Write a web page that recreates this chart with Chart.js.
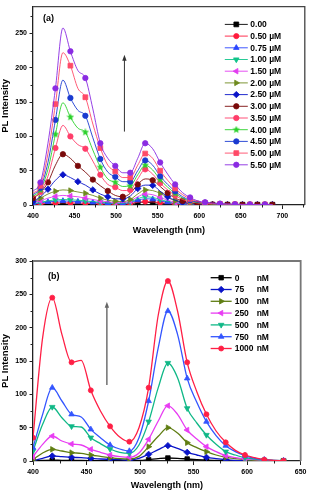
<!DOCTYPE html>
<html><head><meta charset="utf-8">
<script src="https://cdn.jsdelivr.net/npm/chart.js@4.4.1/dist/chart.umd.min.js"></script>
<style>
html,body{margin:0;padding:0;background:#fff;width:309px;height:492px;overflow:hidden}
#ca{position:absolute;left:0;top:0}
#cb{position:absolute;left:0;top:250px}
</style></head>
<body>
<canvas id="ca" width="309" height="250"></canvas>
<canvas id="cb" width="309" height="242"></canvas>
<script>
// ---------------- DATA: panel (a) ----------------
const wavelengthA = [400,409,418,427,436,445,454,463,472,481,490,499,508,517,526,535,544,553,562,571,580,589,598,607,616,625,634,643,652,661,670,679,688];
const labelsA = ['0.00','0.50 µM','0.75 µM','1.00 µM','1.50 µM','2.00 µM','2.50 µM','3.00 µM','3.50 µM','4.00 µM','4.50 µM','5.00 µM','5.50 µM'];
const a000 = [0.5,0.8,1,1.2,1.3,1.2,1.1,1,0.9,0.8,0.7,0.7,0.8,1.5,3.5,4,3.5,2.5,1.5,1,0.7,0.5,0.4,0.4,0.4,0.4,0.4,0.4,0.4,0.4,0.4,0.4,0.4];
const a050 = [1,1.5,2.5,3,3.2,3,2.8,2.5,2,1.7,1.3,1.2,1.2,2,4,5,4.5,3.5,2.3,1.4,0.8,0.5,0.3,0.2,0.2,0.2,0.2,0.2,0.2,0.2,0.2,0.2,0.2];
const a075 = [1.5,3,4.5,5.5,6,5.5,5,4.5,3.8,3,2.3,2,2,3.5,7,9,8.5,6,4,2.5,1.5,0.8,0.5,0.3,0.3,0.3,0.3,0.3,0.3,0.3,0.3,0.3,0.3];
const a100 = [2,4,6,7.5,8,7.5,7,6,5,4,3,2.5,2.5,4.5,9,12,11,8,5,3,1.8,1,0.6,0.4,0.3,0.3,0.3,0.3,0.3,0.3,0.3,0.3,0.3];
const a150 = [3,6,10,12.5,14,13,12,10,8,6,4.5,3.5,3.5,6,12,16,15,11,7,4,2.5,1.5,0.8,0.5,0.4,0.3,0.3,0.3,0.3,0.3,0.3,0.3,0.3];
const a200 = [4,10,16,20,22,21,19,17,14,10,7,5.5,5,8,16,22,21,17,11,6,3.5,2,1.2,0.7,0.5,0.4,0.3,0.3,0.3,0.3,0.3,0.3,0.3];
const a250 = [5,12,23,36,44,40,34,29,22,16,12,9,9,13,24,29,28.6,20,12,7,4,2,1.2,0.8,0.5,0.4,0.3,0.3,0.3,0.3,0.3,0.3,0.3];
const a300 = [10,18,33,58,74,68,57,48,37,28,20.5,14,12,17,30,38,36,27,17.6,10,6,3.5,2,1.2,0.8,0.6,0.5,0.5,0.4,0.4,0.4,0.4,0.4];
const a350 = [11,19,42,83,116,100,88,82,64,44,30,26,21,22,38,52,45,32,22,14,8,5,3,2,1.2,0.8,0.6,0.5,0.5,0.4,0.4,0.4,0.4];
const a400 = [13,22,52,103,149,128,112,106,80,55,38,33,27,28,44,58,51,37,26,17,10,6,3.5,2.5,1.5,1,0.8,0.7,0.6,0.5,0.5,0.5,0.5];
const a450 = [15,25,62,124,182,156,138,130,98,67,48,41,34,34,50,65,58,42,30,20,12,7,4,3,2,1.2,1,0.8,0.7,0.6,0.6,0.6,0.6];
const a500 = [17,28,75,147,222,203,170,157,118,83,58,49,40,40,58,75,68,50,36,24,15,9,5,3,2,1.5,1,1,0.8,0.7,0.7,0.7,0.7];
const a550 = [20,33,90,170,258,224,196,185,140,90,68,57,47,47,68,90,82,62,45,30,18,11,6,4,3,2,1.5,1,1,0.8,0.8,0.8,0.8];
const seriesA = [a000,a050,a075,a100,a150,a200,a250,a300,a350,a400,a450,a500,a550];
const xTicksA = [400,450,500,550,600,650,700];
const yTicksA = [0,50,100,150,200,250];
const arrowA = [510, 107, 219]; // wavelength, from intensity, to intensity

// ---------------- DATA: panel (b) ----------------
const wavelengthB = [400,409,418,427,436,445,454,463,472,481,490,499,508,517,526,535,544,553,562,571,580,589,598,607,616,625,634];
const labelsB = ['0','75','100','250','500','750','1000'];
const unitB = 'nM';
const b0    = [0.3,0.8,1.2,1,0.9,0.8,0.7,0.6,0.5,0.5,0.5,0.8,2,3.5,4.5,4,3,2,1.2,0.8,0.5,0.4,0.3,0.3,0.3,0.3,0.3];
const b75   = [0.5,4,7.5,6.5,5.5,5,4,3,2.5,2,1.5,4,10,17,23,19,13,9,5.5,3.5,2,1,0.5,0.3,0.2,0.2,0.2];
const b100  = [2,12,17.5,15,12.5,11.5,9,7,5,3.5,3,7,21.5,37,50,42,27.5,20,14,9,5.5,3.5,2,1,0.5,0.3,0.2];
const b250  = [6.5,25,37.5,30,25.5,24,17.5,13,9,6.5,5.5,12,32.5,60,83,70,46.5,33,21.5,14,8,5,3,2,1,0.5,0.3];
const b500  = [15,55,81,65,52,51,35,26,18,13,11.5,24,59,110,147,125,79,57,39,25,14,9,5,3,1.5,1,0.5];
const b750  = [20,70,110,90,70,66,47.5,35,24,18,15,35,90,170,225,190,124,88,59,38,23,14,8,4,2,1,0.5];
const b1000 = [35,185,245,190,148,151,106,75,52,36,29,50,110,219,270,225,148,104,70,45,28,16,9,5,2,1,0.5];
const seriesB = [b0,b75,b100,b250,b500,b750,b1000];
const xTicksB = [400,450,500,550,600,650];
const yTicksB = [0,50,100,150,200,250,300];
const arrowB = [469, 114, 239];

// ---------------- STYLES ----------------
const FONT = "'Liberation Sans', Arial, sans-serif";
Chart.defaults.font.family = FONT;
function makeStar(color, size){
  const c=document.createElement('canvas'); c.width=c.height=size;
  const g=c.getContext('2d'); g.fillStyle=color; g.beginPath();
  for(let k=0;k<10;k++){const r=k%2===0?size/2:size/4.6;const a=-Math.PI/2+k*Math.PI/5;g.lineTo(size/2+r*Math.cos(a),size/2+r*Math.sin(a));}
  g.closePath(); g.fill(); return c;
}
const colorsA = ['#000000','#ff1a3c','#2a45ff','#10c48a','#e23cf0','#6f8a1e','#0a14c8','#7a0a0a','#ff3d6a','#2ad12a','#1a3ad0','#ff4a68','#8a2be2'];
const stylesA = ['rect','circle','triangle','triangle','triangle','triangle','rectRot','circle','circle',makeStar('#2ad12a',8),'circle','rect','circle'];
const rotA    = [0,0,0,180,270,90,0,0,0,0,0,0,0];
const radA    = [3.4,2.6,3.2,3.2,3.2,3.2,3.2,2.7,2.7,3,2.7,3.4,2.7];
const offA    = [0,1,0,1,1,1,0,0,1,1,1,1,1];
const colorsB = ['#000000','#0a14c8','#5f7d12','#e83cf2','#10b887','#3355ff','#ff1f45'];
const stylesB = ['rect','rectRot','triangle','triangle','triangle','triangle','circle'];
const rotB    = [0,0,90,270,180,0,0];
const radB    = [3.2,3.2,3.2,3.2,3.2,3.2,2.5];

function buildDatasets(xs, series, labels, colors, styles, rots, rads, offs, lw){
  const n = series.length;
  return series.map((vals,i)=>({
    label: labels[i],
    data: vals.map((v,k)=>({x:xs[k], y:v})),
    borderColor: colors[i], backgroundColor: colors[i],
    borderWidth: lw,
    pointStyle: styles[i], pointRotation: rots[i],
    pointBackgroundColor: colors[i], pointBorderColor: colors[i], pointBorderWidth: 0.8,
    pointRadius: ctx => ((ctx.dataIndex + (offs?offs[i]:0)) % 2 === 0 ? rads[i] : 0),
    pointHoverRadius: 0,
    cubicInterpolationMode: 'monotone',
    order: n - i
  }));
}

function panelPlugin(opts){
  return {
    id: 'panel_'+opts.name,
    afterDraw(chart){
      const ctx = chart.ctx, a = chart.chartArea, xs = chart.scales.x, ys = chart.scales.y;
      ctx.save();
      // frame top/right
      ctx.strokeStyle = opts.frameColor; ctx.lineWidth = opts.frameWidth;
      ctx.beginPath(); ctx.moveTo(a.left, a.top); ctx.lineTo(a.right, a.top); ctx.lineTo(a.right, a.bottom); ctx.stroke();
      // minor ticks
      ctx.strokeStyle = '#222'; ctx.lineWidth = 1;
      const mx = opts.xTicks, my = opts.yTicks;
      const minorX = [], minorY = [];
      for (let i=0;i<mx.length;i++){ const step = mx[1]-mx[0]; const m = mx[i]+step/2; if (m<=xs.max) minorX.push(m); }
      for (let i=0;i<my.length;i++){ const step = my[1]-my[0]; const m = my[i]+step/2; if (m<=ys.max) minorY.push(m); }
      ctx.beginPath();
      minorX.forEach(v=>{const p=Math.round(xs.getPixelForValue(v))+0.5; ctx.moveTo(p,a.bottom); ctx.lineTo(p,a.bottom+2.5);});
      minorY.forEach(v=>{const p=Math.round(ys.getPixelForValue(v))+0.5; ctx.moveTo(a.left,p); ctx.lineTo(a.left-2.5,p);});
      ctx.stroke();
      // arrow
      const ax = xs.getPixelForValue(opts.arrow[0]);
      const ay0 = ys.getPixelForValue(opts.arrow[1]), ay1 = ys.getPixelForValue(opts.arrow[2]);
      ctx.strokeStyle = opts.arrowColor; ctx.fillStyle = opts.arrowColor; ctx.lineWidth = opts.arrowWidth;
      ctx.beginPath(); ctx.moveTo(ax, ay0); ctx.lineTo(ax, ay1+4); ctx.stroke();
      ctx.beginPath(); ctx.moveTo(ax, ay1); ctx.lineTo(ax-2.2, ay1+6); ctx.lineTo(ax+2.2, ay1+6); ctx.closePath(); ctx.fill();
      // panel label
      ctx.fillStyle = '#000'; ctx.font = 'bold 9px '+FONT; ctx.textBaseline = 'middle'; ctx.textAlign = 'left';
      ctx.fillText(opts.panel, a.left + opts.panelDx, a.top + opts.panelDy);
      // legend
      const L = opts.legend;
      chart.data.datasets.forEach((ds,i)=>{
        const y = a.top + L.y0 + i*L.dy;
        const x0 = a.right - L.fromRight;
        ctx.strokeStyle = ds.borderColor; ctx.lineWidth = L.lw;
        ctx.beginPath(); ctx.moveTo(x0, y); ctx.lineTo(x0 + L.len, y); ctx.stroke();
        ctx.fillStyle = ds.pointBackgroundColor; ctx.strokeStyle = ds.pointBorderColor; ctx.lineWidth = 0.8;
        Chart.helpers.drawPoint(ctx, {pointStyle: ds.pointStyle, rotation: ds.pointRotation, radius: L.radius[i], borderWidth: 0.8}, x0 + L.len/2, y);
        ctx.fillStyle = '#000'; ctx.font = 'bold '+L.fs+'px '+FONT; ctx.textAlign='left'; ctx.textBaseline='middle';
        ctx.fillText(ds.label, x0 + L.len + L.gap, y + 0.5);
        if (L.unit) ctx.fillText(L.unit, x0 + L.len + L.gap + L.unitDx, y + 0.5);
      });
      ctx.restore();
    }
  };
}

function scaleOpts(min, max, ticks, title, isX, fitSize, titlePad, tFs){
  return {
    type: 'linear', min: min, max: max,
    afterBuildTicks: s => { s.ticks = ticks.map(v=>({value:v})); },
    afterFit: s => { if (isX) s.height = fitSize; else s.width = fitSize; },
    ticks: { autoSkip:false, maxRotation:0, color:'#000', font:{size:7, weight:'bold'}, padding: isX?2.5:2.5 },
    grid: { display:true, drawOnChartArea:false, drawTicks:true, tickLength: isX?4:3.5, tickColor:'#222', tickWidth:1 },
    border: { display:true, color:'#222', width:1.3 },
    title: { display:true, text:title, color:'#000', font:{size:tFs, weight:'bold'}, padding: titlePad }
  };
}

// ---------------- CHART (a) ----------------
new Chart(document.getElementById('ca'), {
  type: 'line',
  data: { datasets: buildDatasets(wavelengthA, seriesA, labelsA, colorsA, stylesA, rotA, radA, offA, 0.9) },
  options: {
    responsive:false, animation:false, events:[],
    layout:{ padding:{ left:0, top:3, right:2, bottom:0 } },
    plugins:{ legend:{display:false}, tooltip:{enabled:false} },
    scales:{
      x: scaleOpts(400, 727, xTicksA, 'Wavelength (nm)', true, 45, {top:0,bottom:14.5}, 9),
      y: scaleOpts(0, 289, yTicksA, 'PL Intensity', false, 33, {top:0,bottom:0}, 9.5)
    }
  },
  plugins:[panelPlugin({name:'a', xTicks:xTicksA, yTicks:yTicksA, arrow:arrowA, arrowColor:'#333', arrowWidth:1,
    frameColor:'#444', frameWidth:1.3, panel:'(a)', panelDx:10, panelDy:12,
    legend:{y0:17.7, dy:11.7, fromRight:80, len:23, gap:2.5, fs:8.5, lw:0.9, radius:radA}})]
});

// ---------------- CHART (b) ----------------
new Chart(document.getElementById('cb'), {
  type: 'line',
  data: { datasets: buildDatasets(wavelengthB, seriesB, labelsB, colorsB, stylesB, rotB, radB, null, 1.3) },
  options: {
    responsive:false, animation:false, events:[],
    layout:{ padding:{ left:0, top:11, right:7, bottom:0 } },
    plugins:{ legend:{display:false}, tooltip:{enabled:false} },
    scales:{
      x: scaleOpts(400, 650, xTicksB, 'Wavelength (nm)', true, 31, {top:0,bottom:1.5}, 9),
      y: scaleOpts(0, 300, yTicksB, 'PL Intensity', false, 33, {top:0,bottom:0}, 9.5)
    }
  },
  plugins:[panelPlugin({name:'b', xTicks:xTicksB, yTicks:yTicksB, arrow:arrowB, arrowColor:'#666', arrowWidth:1.4,
    frameColor:'#777', frameWidth:1.8, panel:'(b)', panelDx:15, panelDy:16,
    legend:{y0:16.7, dy:11.8, fromRight:90, len:21, gap:3, fs:8.5, lw:1.3, unit:unitB, unitDx:22, radius:radB}})]
});
</script>
</body></html>
